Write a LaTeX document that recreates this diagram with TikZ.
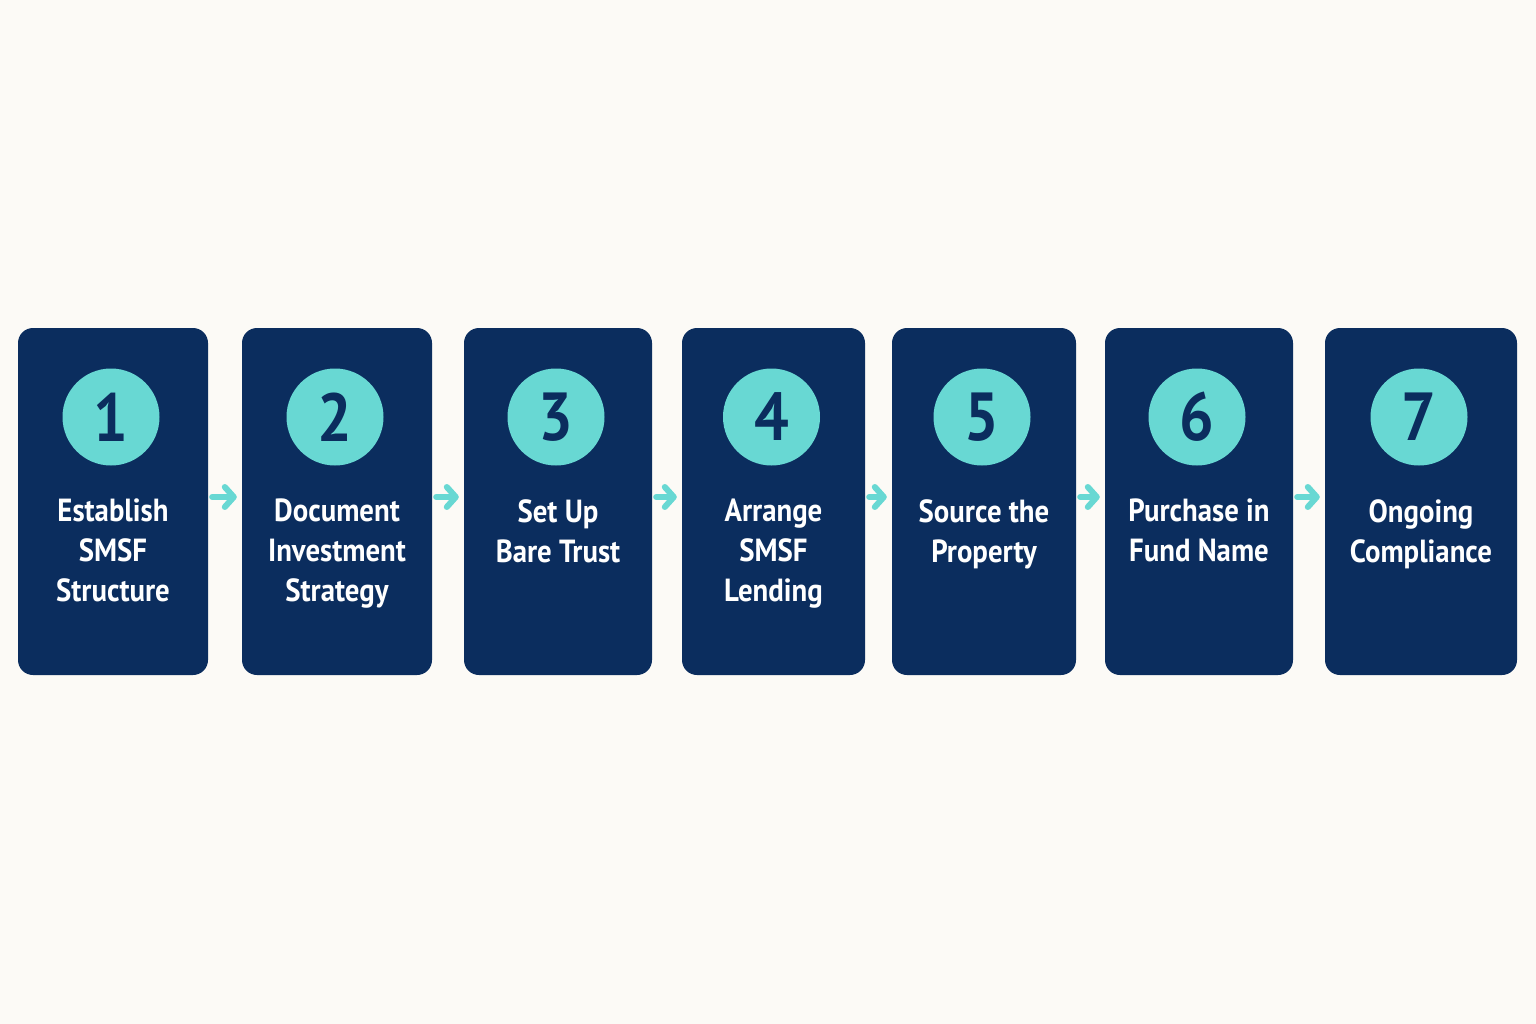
\documentclass[tikz,border=0pt]{standalone}
\usepackage{fontspec}
\setmainfont{PT Sans}[FakeStretch=0.9]
\usetikzlibrary{arrows.meta,positioning}
\definecolor{navy}{HTML}{0B2D5E}
\definecolor{teal}{HTML}{68D8D3}
\definecolor{paper}{HTML}{FCFAF6}
\tikzset{
  stepcard/.style={fill=navy,rounded corners=15pt,minimum height=347pt,inner sep=0pt},
  badge/.style={circle,fill=teal,minimum size=97pt,inner sep=0pt,text=navy,font=\fontsize{68}{68}\selectfont\bfseries},
  caption/.style={text=white,align=center,inner sep=0pt,font=\fontsize{32}{40}\selectfont\bfseries},
  flow/.style={teal,line width=6pt,line cap=round,-{Straight Barb[length=9pt,width=20pt,round]}}
}
\begin{document}
\begin{tikzpicture}[x=1pt,y=-1pt]
        \fill[paper] (0,0) rectangle (1536,1024);
        \useasboundingbox (0,0) rectangle (1536,1024);
        \foreach \n/\cx/\w/\txt in {1/113/190/{Establish\\SMSF\\Structure},
                                   2/337/190/{Document\\Investment\\Strategy},
                                   3/558/188/{Set Up\\Bare Trust},
                                   4/773.5/183/{Arrange\\SMSF\\Lending},
                                   5/984/184/{Source the\\Property},
                                   6/1199/188/{Purchase in\\Fund Name},
                                   7/1421/192/{Ongoing\\Compliance}} {
          \node[stepcard,minimum width=\w pt] (box\n) at (\cx,501.5) {};
          \node[badge] (num\n) at (\cx-2,417) {\n};
          \node[caption,anchor=north] (txt\n) at (\cx,499) {\txt};
        }
        \foreach \i [evaluate=\i as \j using int(\i+1)] in {1,...,6} {
          \draw[flow] ([xshift=4pt,yshift=4.5pt]box\i.east) -- ([xshift=-5pt,yshift=4.5pt]box\j.west);
        }
      \end{tikzpicture}
\end{document}
